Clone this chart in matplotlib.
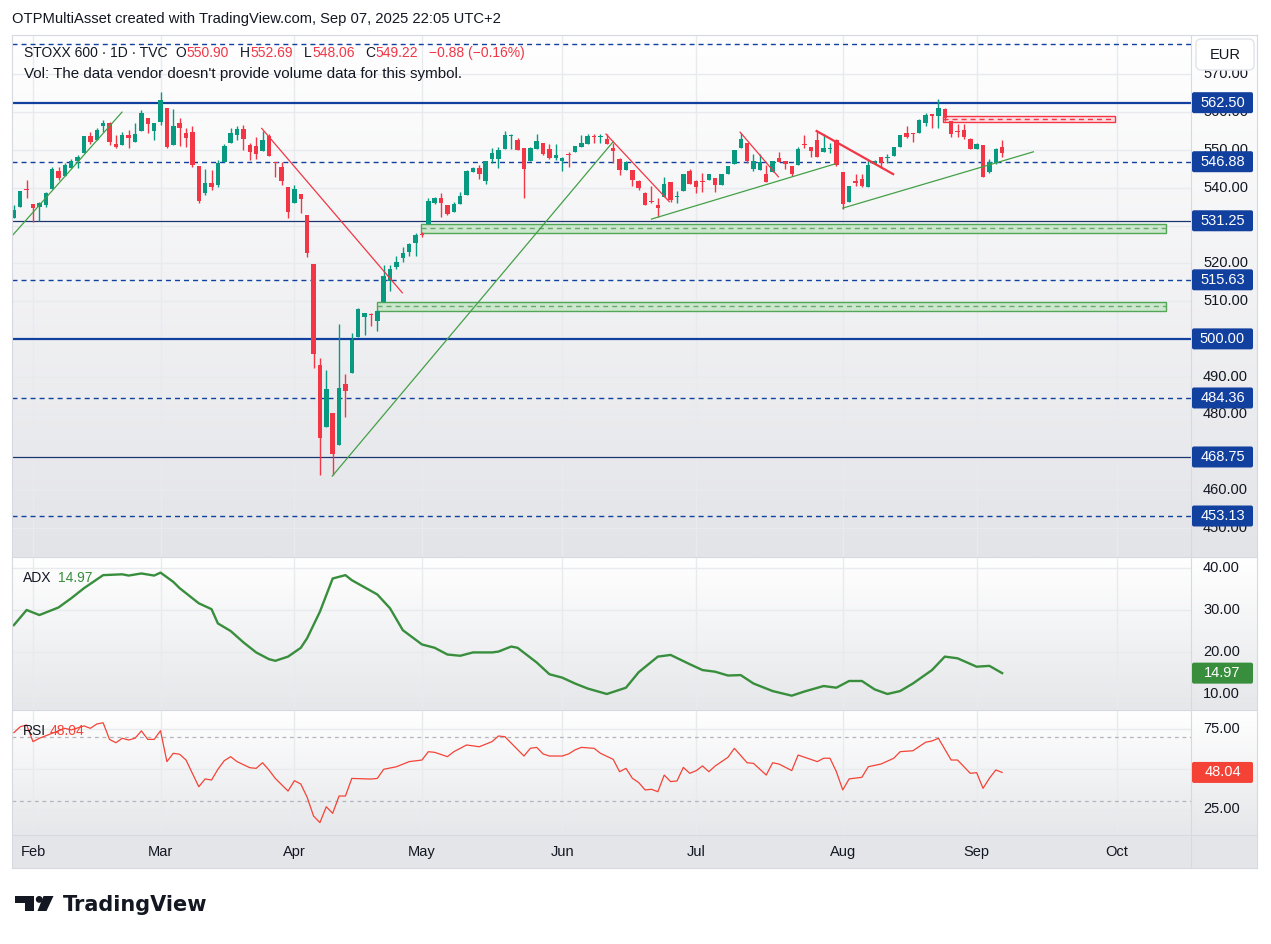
import numpy as np
import matplotlib
matplotlib.use("Agg")
import matplotlib.pyplot as plt
import matplotlib.colors as mcolors
import matplotlib.transforms as mtransforms
from matplotlib.patches import Rectangle, FancyBboxPatch, Polygon, Circle

plt.rcParams['font.family'] = ['Liberation Sans', 'DejaVu Sans']

# ---------------- data ----------------
bar_start = -3   # Jan 29 2025 ; bar 0 = Feb 3 2025
opens = [532.1, 535.0, 539.7, 535.7, 534.9, 535.4, 539.6, 544.4, 543.2, 545.3,
         547.1, 549.1, 553.7, 552.6, 556.4, 557.0, 551.6, 551.3, 553.9, 552.2,
         555.1, 558.4, 555.1, 557.5, 561.0, 551.3, 557.0, 554.6, 554.7, 545.7,
         538.5, 541.3, 540.7, 546.9, 551.7, 553.9, 555.5, 551.4, 551.1, 549.8,
         553.8, 546.7, 545.6, 540.1, 536.05, 538.3, 532.8, 519.8, 493.1, 476.8,
         480.3, 472.0, 488.1, 490.9, 500.6, 505.9, 506.6, 504.6, 509.7, 515.3,
         519.1, 521.3, 523.1, 525.5, 527.8, 530.4, 535.9, 537.2, 535.4, 533.7,
         535.7, 538.1, 544.1, 545.1, 541.8, 547.5, 547.6, 550.2, 553.6, 552.6,
         550.4, 547.2, 550.2, 551.9, 550.2, 547.8, 547.2, 548.9, 549.5, 550.9,
         551.5, 553.7, 553.5, 552.8, 550.4, 547.5, 544.7, 544.7, 541.8, 538.7,
         536.5, 535.4, 537.5, 541.6, 537.5, 539.2, 544.4, 541.8, 541.6, 542.0,
         542.7, 540.7, 543.5, 546.3, 550.6, 551.9, 544.9, 544.7, 543.5, 544.2,
         547.8, 547.2, 545.7, 546.0, 551.5, 550.7, 552.6, 549.4, 550.2, 552.6,
         544.1, 536.3, 541.8, 542.3, 540.3, 546.4, 548.0, 547.8, 548.5, 550.9,
         554.4, 554.4, 554.4, 557.0, 559.3, 559.1, 560.8, 557.7, 555.0, 555.3,
         552.8, 550.25, 551.3, 544.25, 546.6, 550.90]
highs = [535.4, 539.1, 542.0, 535.7, 536.1, 538.8, 545.6, 545.6, 546.5, 547.6,
         548.6, 553.8, 554.8, 555.7, 557.9, 557.3, 553.9, 554.8, 555.3, 557.2,
         560.6, 558.4, 557.0, 565.4, 561.0, 560.8, 558.4, 555.7, 556.2, 545.8,
         544.9, 544.7, 547.3, 551.6, 555.7, 556.2, 556.6, 551.7, 553.3, 555.1,
         554.2, 546.8, 546.9, 540.1, 540.7, 538.3, 532.8, 519.8, 494.9, 491.8,
         480.3, 503.9, 490.7, 501.6, 508.1, 506.9, 506.8, 507.6, 519.6, 519.6,
         521.8, 524.4, 525.3, 527.9, 528.3, 537.2, 537.5, 538.7, 535.4, 536.3,
         538.9, 544.7, 545.6, 546.0, 547.1, 550.4, 550.9, 555.1, 554.2, 553.1,
         550.4, 550.7, 554.2, 551.9, 551.6, 551.6, 548.0, 549.5, 551.0, 553.9,
         554.1, 554.1, 554.1, 554.3, 551.9, 547.8, 547.1, 544.7, 542.0, 538.9,
         540.5, 537.2, 542.9, 541.6, 539.1, 543.6, 544.9, 542.0, 543.8, 543.6,
         542.7, 543.5, 545.8, 550.0, 554.4, 551.9, 548.9, 548.8, 546.0, 547.2,
         549.5, 547.2, 545.7, 550.9, 554.0, 550.7, 555.0, 554.1, 551.8, 552.9,
         544.1, 540.5, 543.5, 543.5, 547.3, 547.3, 548.2, 548.8, 550.9, 554.0,
         556.3, 554.4, 558.2, 559.7, 559.3, 563.5, 561.0, 557.7, 556.8, 556.8,
         553.2, 551.75, 551.3, 547.6, 550.6, 552.69]
lows = [532.1, 535.0, 537.2, 530.9, 531.2, 535.0, 539.6, 542.0, 543.2, 545.3,
        545.1, 549.1, 551.5, 552.6, 554.8, 551.3, 550.4, 551.3, 550.6, 552.2,
        555.1, 554.4, 552.6, 556.6, 550.6, 551.3, 551.0, 550.8, 545.6, 536.05,
        538.1, 539.4, 540.1, 546.9, 551.7, 552.5, 550.0, 547.3, 547.5, 549.8,
        548.4, 542.9, 540.7, 531.9, 536.05, 533.2, 521.6, 492.2, 464.0, 476.8,
        464.0, 472.0, 479.4, 490.9, 500.6, 501.0, 503.5, 502.2, 509.7, 512.8,
        518.4, 520.4, 521.8, 521.8, 526.9, 530.4, 535.7, 532.2, 532.8, 533.7,
        535.7, 538.1, 544.1, 542.2, 541.0, 546.6, 545.3, 550.2, 550.2, 550.0,
        537.2, 547.2, 550.2, 548.7, 547.5, 547.3, 544.5, 545.4, 549.5, 550.9,
        551.5, 551.9, 551.9, 551.5, 546.5, 543.4, 544.7, 540.5, 539.4, 535.4,
        535.9, 532.2, 537.5, 536.3, 536.0, 539.2, 541.0, 538.7, 538.8, 542.0,
        538.9, 540.7, 543.5, 546.3, 550.6, 546.6, 544.3, 544.7, 541.6, 544.2,
        546.7, 545.0, 543.2, 546.0, 550.4, 548.2, 548.2, 549.4, 549.1, 545.8,
        534.4, 536.1, 540.5, 540.3, 540.3, 546.2, 545.3, 546.6, 548.5, 550.9,
        553.2, 552.2, 554.4, 556.2, 555.7, 555.9, 557.7, 553.5, 553.5, 552.8,
        550.2, 550.25, 542.9, 543.8, 546.4, 548.06]
closes = [534.1, 539.0, 539.3, 534.7, 536.0, 538.7, 545.0, 542.7, 546.0, 547.1,
          548.0, 553.8, 552.2, 555.4, 557.0, 552.0, 550.8, 553.9, 553.2, 554.2,
          559.7, 556.9, 557.0, 563.2, 550.9, 556.2, 555.9, 553.2, 546.0, 536.6,
          541.3, 540.3, 546.6, 551.0, 554.6, 555.5, 552.8, 549.5, 548.8, 552.6,
          548.4, 546.5, 541.9, 533.7, 539.6, 536.9, 522.8, 495.9, 473.7, 486.7,
          469.5, 486.9, 486.3, 499.7, 507.9, 506.8, 506.3, 507.5, 516.6, 518.4,
          520.4, 522.8, 525.0, 527.5, 527.6, 536.6, 537.2, 536.0, 533.1, 535.7,
          537.8, 544.4, 545.1, 543.6, 547.1, 549.3, 550.0, 553.9, 554.0, 550.0,
          544.9, 550.4, 552.4, 548.8, 547.8, 548.7, 547.8, 548.7, 551.0, 551.9,
          553.8, 553.5, 553.7, 551.5, 549.8, 544.7, 546.7, 542.0, 539.8, 535.4,
          536.1, 534.7, 540.9, 536.8, 537.6, 543.6, 541.0, 540.3, 541.4, 543.6,
          540.7, 543.5, 545.8, 550.0, 552.9, 547.1, 547.1, 546.9, 541.6, 547.2,
          546.7, 546.3, 543.5, 550.25, 551.3, 549.7, 548.2, 550.6, 550.4, 546.0,
          535.6, 540.5, 541.2, 540.5, 546.0, 547.1, 546.6, 547.9, 550.9, 554.0,
          553.5, 554.2, 557.9, 559.3, 559.1, 561.2, 558.4, 554.2, 554.8, 553.5,
          550.2, 551.5, 542.9, 546.7, 550.25, 549.22]

# ADX(14) curve: bar index / value
adx_idx = [-3, -1, 1, 4, 6, 8, 11, 14, 15, 17, 19, 20, 22, 23, 25, 26, 28, 29, 31, 33,
           35, 37, 38, 40, 42, 43, 45, 47, 49, 50, 54, 56, 58, 61, 63, 65, 67, 69, 72, 73,
           75, 76, 79, 81, 83, 85, 87, 90, 93, 95, 98, 100, 103, 105, 107, 109, 111, 113, 116, 119,
           121, 124, 126, 128, 130, 132, 134, 136, 138, 141, 143, 145, 148, 150, 152]
adx_val = [26.4, 30.0, 28.8, 30.6, 32.8, 35.2, 38.3, 38.5, 38.2, 38.7, 38.2, 38.9, 36.7, 35.2, 32.8, 31.6, 30.2, 26.8, 25.0, 22.3,
           19.9, 18.3, 17.9, 18.9, 21.0, 23.3, 29.6, 37.5, 38.3, 37.1, 33.7, 30.4, 25.2, 21.8, 21.0, 19.4, 19.1, 19.9, 19.9, 20.1,
           21.3, 21.0, 17.5, 14.7, 13.9, 12.5, 11.3, 10.0, 11.5, 15.2, 18.9, 19.3, 17.1, 15.7, 15.3, 14.4, 14.5, 12.5, 10.7, 9.6,
           10.6, 11.9, 11.5, 13.1, 13.1, 11.1, 10.0, 10.7, 12.5, 15.7, 18.9, 18.5, 16.5, 16.7, 14.97]

# RSI(14) curve
rsi_idx = [-3, -2, -1, 0, 1, 3, 5, 6, 8, 9, 10, 11, 12, 13, 14, 15, 16, 17, 18, 19,
           20, 21, 22, 23, 24, 26, 27, 28, 29, 30, 31, 32, 34, 35, 36, 37, 38, 40, 41, 42,
           43, 44, 45, 46, 47, 48, 49, 50, 53, 54, 55, 57, 59, 61, 62, 63, 65, 66, 68, 70,
           72, 73, 74, 77, 78, 79, 80, 81, 83, 84, 85, 86, 88, 89, 91, 92, 93, 94, 95, 96,
           97, 98, 99, 100, 101, 102, 103, 104, 105, 106, 107, 109, 110, 112, 113, 115, 116, 117, 119, 120,
           122, 123, 124, 125, 126, 127, 128, 130, 131, 133, 135, 136, 138, 140, 141, 142, 144, 145, 147, 148,
           149, 150, 151, 152]
rsi_val = [72.9, 76.6, 77.7, 67.3, 69.4, 72.5, 75.6, 74.6, 77.1, 75.6, 78.3, 79.1, 68.7, 66.6, 69.4, 68.3, 69.4, 74.0, 68.7, 68.7,
           74.1, 54.8, 60.0, 59.4, 55.8, 39.1, 44.0, 43.3, 50.0, 55.4, 57.9, 54.8, 51.0, 50.6, 54.1, 49.6, 44.3, 36.4, 42.9, 40.8,
           32.5, 20.8, 16.7, 26.6, 22.5, 33.3, 33.3, 44.3, 43.9, 44.3, 50.0, 51.6, 54.8, 55.8, 61.0, 60.6, 57.9, 61.0, 65.2, 64.1,
           67.3, 70.8, 70.4, 58.3, 63.1, 63.7, 59.6, 58.3, 58.3, 59.6, 62.1, 63.7, 63.1, 60.0, 56.2, 48.5, 50.6, 44.4, 41.7, 37.1,
           37.5, 36.0, 46.4, 42.3, 42.7, 51.2, 47.5, 49.1, 52.1, 48.5, 52.1, 57.5, 63.1, 54.1, 53.7, 46.4, 54.1, 53.3, 49.2, 58.9,
           56.2, 54.8, 56.9, 56.9, 48.5, 37.1, 44.0, 45.0, 51.6, 53.3, 56.9, 61.0, 61.6, 66.9, 67.7, 69.4, 55.8, 55.8, 47.5, 47.9,
           38.1, 44.4, 49.6, 48.04]

# drawings: (bar, price) pairs
green_lines = [[(-4.0, 525.9), (13.96, 560.0)],
               [(46.94, 463.7), (91.0, 552.2)],
               [(97.0, 531.7), (125.8, 546.3)],
               [(127.0, 534.6), (156.9, 549.5)]]
red_lines = [[(35.87, 555.7), (57.92, 512.2)],
             [(89.87, 554.2), (99.8, 536.3)],
             [(110.9, 554.7), (116.9, 542.9)]]
red_line_bold = [(122.9, 555.0), (134.9, 543.6)]
green_zones = [(60.8, 177.7, 528.1, 530.4), (53.9, 177.7, 507.5, 509.7)]
red_zones = [(142.8, 169.7, 557.5, 559.1)]
solid_thick_levels = [562.50, 500.00]
solid_thin_levels = [531.25, 468.75]
dashed_levels = [578.13, 546.88, 515.63, 484.36, 453.13]
label_levels = [562.50, 546.88, 531.25, 515.63, 500.00, 484.36, 468.75, 453.13]
price_ticks = [570, 560, 550, 540, 530, 520, 510, 500, 490, 480, 470, 460, 450]
month_names = ['Feb', 'Mar', 'Apr', 'May', 'Jun', 'Jul', 'Aug', 'Sep', 'Oct']
month_idx = [0, 20, 41, 61, 83, 104, 127, 148, 170]
adx_ticks = [40, 30, 20, 10]
rsi_ticks = [75, 50, 25]
rsi_bands = [70, 30]
ohlc_last = [('O', '550.90'), ('H', '552.69'), ('L', '548.06'), ('C', '549.22')]
change_text = '−0.88 (−0.16%)'

# ---------------- layout ----------------
W, H = 1271, 944
fig = plt.figure(figsize=(W / 100, H / 100), dpi=100)
fig.patch.set_facecolor('white')
T = mtransforms.Affine2D().scale(1 / W, -1 / H).translate(0, 1) + fig.transFigure
renderer = fig.canvas.get_renderer()

X0, XR, XE = 12, 1191, 1257
PX_PER_BAR, X_BAR0 = 6.376, 33.0
XLIM = ((X0 - X_BAR0) / PX_PER_BAR, (XR - X_BAR0) / PX_PER_BAR)

NAVY = '#12409f'
GREEN = '#089981'
RED = '#f23645'
TXT = '#131722'
GRID = '#e8eaee'


def fax(x0, y0, x1, y1, **kw):
    return fig.add_axes([x0 / W, 1 - y1 / H, (x1 - x0) / W, (y1 - y0) / H], **kw)


def gradient(y0, y1, c0, c1):
    a = fax(X0, y0, XE, y1)
    a.set_zorder(-10)
    g = np.linspace(0, 1, 256)[:, None, None]
    top = np.array(mcolors.to_rgb(c0))[None, None, :]
    bot = np.array(mcolors.to_rgb(c1))[None, None, :]
    a.imshow(top * (1 - g) + bot * g, aspect='auto', extent=[0, 1, 0, 1], origin='upper')
    a.axis('off')


panes = {'main': (35, 557), 'adx': (557, 710), 'rsi': (710, 835)}
gradient(35, 557, '#ffffff', '#e3e4e8')
gradient(557, 710, '#ffffff', '#e6e7ea')
gradient(710, 835, '#ffffff', '#e6e7ea')
fig.add_artist(Rectangle((X0, 835), XE - X0, 33, transform=T, fc='#e4e5e9', ec='none', zorder=-9))


def make_ax(name, ylim):
    y0, y1 = panes[name]
    a = fax(X0, y0, XR, y1)
    a.set_facecolor('none')
    a.set_xlim(*XLIM)
    a.set_ylim(*ylim)
    for s in a.spines.values():
        s.set_visible(False)
    a.set_xticks([])
    a.set_yticks([])
    for m in month_idx:
        a.axvline(m, color=GRID, lw=1.0, zorder=0)
    return a


def ypix(name, ylim, v):
    y0, y1 = panes[name]
    return y0 + (ylim[1] - v) / (ylim[1] - ylim[0]) * (y1 - y0)


def axis_label(name, ylim, v, boxes=()):
    yp = ypix(name, ylim, v)
    if any(abs(yp - ypix(name, ylim, b)) < 7 for b in boxes):
        return  # hidden behind a level label, as in TradingView
    fig.text(1203 / W, 1 - yp / H, f'{v:.2f}', fontsize=10.5,
             color=TXT, va='center', ha='left', zorder=3)


def value_box(name, ylim, v, color):
    yp = ypix(name, ylim, v)
    fig.add_artist(FancyBboxPatch((1192, yp - 10.5), 61, 21, boxstyle='round,pad=0,rounding_size=2',
                                  transform=T, fc=color, ec='none', zorder=8))
    fig.text(1222.5 / W, 1 - yp / H, f'{v:.2f}', fontsize=10.5, color='white',
             va='center', ha='center', zorder=9)


# ---------------- main pane ----------------
MAIN_YLIM = (442.28, 580.41)
ax = make_ax('main', MAIN_YLIM)
for v in price_ticks:
    ax.axhline(v, color=GRID, lw=1.0, zorder=0)

idx = np.arange(bar_start, bar_start + len(opens))
o, h, l, c = map(np.array, (opens, highs, lows, closes))
up = c >= o
cols = np.where(up, GREEN, RED)
ax.vlines(idx, l, h, colors=cols, lw=1.0, zorder=4)
bottom = np.minimum(o, c)
height = np.maximum(np.abs(c - o), 0.28)
ax.bar(idx, height, bottom=bottom, width=0.7, color=cols, linewidth=0, zorder=5)

for v in solid_thick_levels:
    ax.axhline(v, color=NAVY, lw=1.6, zorder=3)
for v in solid_thin_levels:
    ax.axhline(v, color='#1c3470', lw=0.9, zorder=3)
for v in dashed_levels:
    ax.axhline(v, color=NAVY, lw=1.0, ls=(0, (3.6, 2.9)), zorder=3)

for (x0, x1, p0, p1) in green_zones:
    ax.add_patch(Rectangle((x0, p0), x1 - x0, p1 - p0, fc='#c8e6c9', ec='#43a047', lw=1.0, alpha=0.9, zorder=3.5))
    ax.plot([x0, x1], [(p0 + p1) / 2] * 2, color='#66a96a', lw=1.0, ls=(0, (3.6, 2.9)), zorder=3.6)
for (x0, x1, p0, p1) in red_zones:
    ax.add_patch(Rectangle((x0, p0), x1 - x0, p1 - p0, fc='#fcdfe2', ec=RED, lw=1.0, zorder=3.5))
    ax.plot([x0, x1], [(p0 + p1) / 2] * 2, color=RED, lw=1.0, ls=(0, (3.6, 2.9)), zorder=3.6)

for seg in green_lines:
    xs, ys = zip(*seg)
    ax.plot(xs, ys, color='#43a047', lw=0.9, zorder=6)
for seg in red_lines:
    xs, ys = zip(*seg)
    ax.plot(xs, ys, color=RED, lw=0.9, zorder=6)
xs, ys = zip(*red_line_bold)
ax.plot(xs, ys, color=RED, lw=1.6, zorder=6)

for v in price_ticks:
    axis_label('main', MAIN_YLIM, v, boxes=label_levels)
for v in label_levels:
    value_box('main', MAIN_YLIM, v, NAVY)

# EUR button
fig.add_artist(FancyBboxPatch((1196, 39), 58, 31, boxstyle='round,pad=0,rounding_size=5', transform=T,
                              fc='white', ec='#e0e3eb', lw=1.0, zorder=10))
fig.text(1225 / W, 1 - 55 / H, 'EUR', fontsize=10.5, color=TXT, ha='center', va='center', zorder=11)

# legend texts
fig.text(12 / W, 1 - 19 / H, 'OTPMultiAsset created with TradingView.com, Sep 07, 2025 22:05 UTC+2',
         fontsize=10.6, color=TXT, va='center', ha='left')


def seq_text(x, y, s, color, size=10):
    t = fig.text(x / W, 1 - y / H, s, fontsize=size, color=color, va='center', ha='left', zorder=12)
    return t.get_window_extent(renderer).x1


fig.text(24 / W, 1 - 53 / H, 'STOXX 600 · 1D · TVC', fontsize=10, color=TXT, va='center', ha='left', zorder=12)
for xs_, (letter, val) in zip([175, 240, 304, 365], ohlc_last):
    xe = seq_text(xs_, 53, letter, TXT)
    seq_text(xe + 0.5, 53, val, RED)
seq_text(429, 53, change_text, RED)
fig.text(24 / W, 1 - 74 / H, "Vol: The data vendor doesn't provide volume data for this symbol.",
         fontsize=10.9, color=TXT, va='center', ha='left', zorder=12)

# ---------------- ADX pane ----------------
ADX_YLIM = (6.19, 42.62)
ax2 = make_ax('adx', ADX_YLIM)
for v in adx_ticks:
    ax2.axhline(v, color=GRID, lw=1.0, zorder=0)
ax2.plot(adx_idx, adx_val, color='#388e3c', lw=1.7, zorder=4)
for v in adx_ticks:
    axis_label('adx', ADX_YLIM, v)
value_box('adx', ADX_YLIM, adx_val[-1], '#388e3c')
fig.text(23 / W, 1 - 578 / H, 'ADX', fontsize=10, color=TXT, va='center', ha='left')
fig.text(58 / W, 1 - 578 / H, f'{adx_val[-1]:.2f}', fontsize=10, color='#388e3c', va='center', ha='left')

# ---------------- RSI pane ----------------
RSI_YLIM = (8.94, 87.06)
ax3 = make_ax('rsi', RSI_YLIM)
for v in rsi_ticks:
    ax3.axhline(v, color=GRID, lw=1.0, zorder=0)
for v in rsi_bands:
    ax3.axhline(v, color='#b2b5be', lw=0.9, ls=(0, (3, 3)), zorder=1)
ax3.plot(rsi_idx, rsi_val, color='#f44336', lw=0.9, zorder=4)
for v in rsi_ticks:
    if v != 50:
        axis_label('rsi', RSI_YLIM, v)
value_box('rsi', RSI_YLIM, rsi_val[-1], '#f44336')
fig.text(23 / W, 1 - 731 / H, 'RSI', fontsize=10, color=TXT, va='center', ha='left')
fig.text(50 / W, 1 - 731 / H, f'{rsi_val[-1]:.2f}', fontsize=10, color='#f44336', va='center', ha='left')

# ---------------- time axis ----------------
for name, m in zip(month_names, month_idx):
    fig.text((X_BAR0 + m * PX_PER_BAR) / W, 1 - 852 / H, name, fontsize=10.5, color=TXT,
             ha='center', va='center')

# separators / frame
for y in (35, 557, 710, 835, 868):
    fig.add_artist(plt.Line2D([X0, XE], [y, y], transform=T, color='#d6d9e0', lw=0.8, zorder=7))
for x in (X0, XR, XE):
    fig.add_artist(plt.Line2D([x, x], [35, 868], transform=T, color='#d6d9e0', lw=0.8, zorder=7))

# ---------------- logo ----------------
fig.add_artist(Polygon([(15, 896), (33.5, 896), (33.5, 911), (25, 911), (25, 903), (15, 903)],
                       closed=True, transform=T, fc='#131722', ec='none'))
fig.add_artist(Circle((39.2, 899.4), 3.4, transform=T, fc='#131722', ec='none'))
fig.add_artist(Polygon([(43.5, 896), (53.5, 896), (46.5, 911), (37.5, 911)], closed=True, transform=T,
                       fc='#131722', ec='none'))
fig.text(63 / W, 1 - 911 / H, 'TradingView', fontsize=15, fontweight='bold', color='#131722',
         family='DejaVu Sans', va='baseline', ha='left')

fig.savefig('out.png', dpi=100)
